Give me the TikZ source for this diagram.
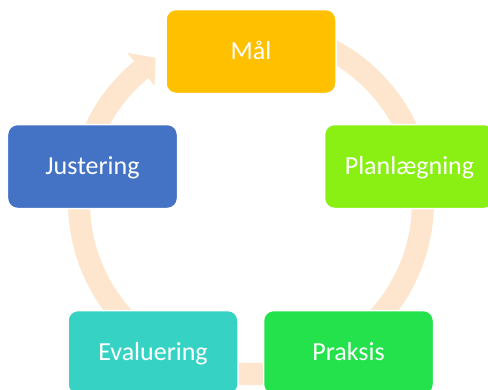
\documentclass[tikz,border=0pt]{standalone}
\usepackage{fontspec}
\setmainfont{Carlito}
\usetikzlibrary{calc}
\definecolor{ringc}{RGB}{253,230,205}
\definecolor{malc}{RGB}{255,192,0}
\definecolor{planc}{RGB}{138,240,20}
\definecolor{praksc}{RGB}{36,226,76}
\definecolor{evalc}{RGB}{54,211,197}
\definecolor{justc}{RGB}{68,114,196}
\tikzset{
  stepbox/.style={rectangle, rounded corners=10bp, draw=white, line width=1.5bp,
    minimum width=170bp, minimum height=84bp, inner sep=0pt,
    text=white, font=\fontsize{26bp}{30bp}\selectfont,
    text height=16.7bp, text depth=0pt},
  ring/.style={draw=ringc, line width=22bp, line cap=butt},
}
\begin{document}
\begin{tikzpicture}[x=1bp,y=-1bp]
\useasboundingbox (0,0) rectangle (488,389);
\clip (0,0) rectangle (488,389);
\coordinate (c) at (251,202);
% ring with arrow head
\draw[ring] ($(c)+(231:172)$) arc[start angle=231, end angle=-90, radius=172];
\fill[ringc] ($(c)+(230.3:194)$) -- ($(c)+(236.5:173)$) -- ($(c)+(230.3:151)$) -- cycle;
% boxes
\node[stepbox, fill=malc] (mal) at (251,51.5) {Mål};
\node[stepbox, fill=planc] (plan) at (409.5,166.5) {Planlægning};
\node[stepbox, fill=praksc] (praks) at (348.5,352.5) {Praksis};
\node[stepbox, fill=evalc] (eval) at (153,352.5) {Evaluering};
\node[stepbox, fill=justc] (just) at (92.5,166.5) {Justering};
\end{tikzpicture}
\end{document}
